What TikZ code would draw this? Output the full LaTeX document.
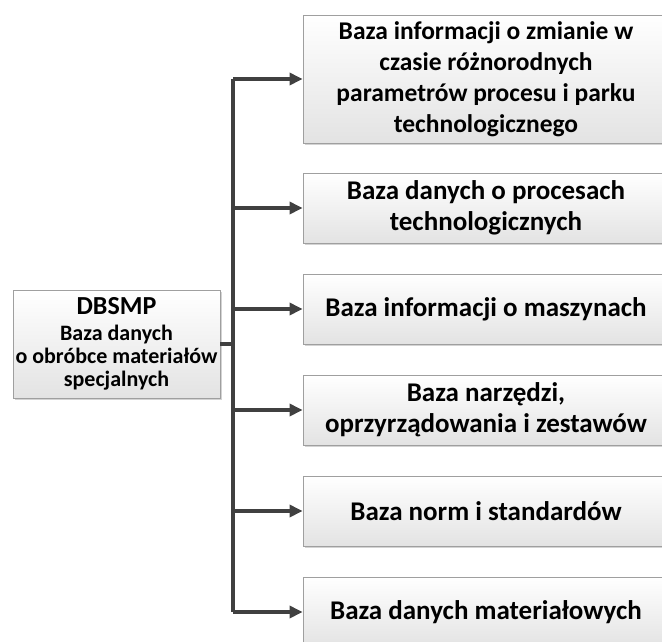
\documentclass[tikz,border=0pt]{standalone}
\usepackage{fontspec}
\setmainfont{Carlito}
\usetikzlibrary{arrows.meta,shadows}
\definecolor{linegray}{HTML}{404040}
\begin{document}
\begin{tikzpicture}
[x=1pt,y=-1pt,
  boxdecorate/.style={shape=rectangle,draw=gray!75,line width=0.8pt,
    top color=white,bottom color=gray!22,align=center,inner sep=2pt,
    drop shadow={shadow xshift=2pt,shadow yshift=-2pt,opacity=0.35,fill=gray}},%
  linedecorate/.style={-,line width=3.2pt,draw=linegray},%
  arrowdecorate/.style={-{Triangle[length=13pt,width=12pt]},line width=3.2pt,draw=linegray}]
\useasboundingbox (0,0) rectangle (662,641);
%% main node
\node (db) at (116.5,344) [boxdecorate,minimum width=207pt,minimum height=108pt,
  font=\bfseries\fontsize{22}{23}\selectfont]
  {{\fontsize{26}{26}\selectfont DBSMP}\\[3pt]
   Baza danych\\
   o obróbce materiałów\\
   specjalnych};
%% right side boxes
\foreach \nodename/\y/\h/\fs/\label in {
  b1/79/128/25.5/{Baza informacji o zmianie w\\czasie różnorodnych\\parametrów procesu i parku\\technologicznego},
  b2/208/70/27/{Baza danych o procesach\\technologicznych},
  b3/309/70/27/{Baza informacji o maszynach},
  b4/410/70/27/{Baza narzędzi,\\oprzyrządowania i zestawów},
  b5/511/70/27/{Baza norm i standardów},
  b6/612/70/27/{Baza danych materiałowych}}
{
  \node (\nodename) at (486,\y) [boxdecorate,minimum width=366pt,minimum height=\h pt,
    font=\bfseries\fontsize{\fs}{31}\selectfont] {\label};
}
%% spine and arrows
\coordinate (spine) at (233,0);
\draw[linedecorate] (db.east) -- (db.east -| spine);
\draw[linedecorate] (b1.west -| spine) -- (b6.west -| spine);
\foreach \nodename in {b1,b2,b3,b4,b5,b6}
{
  \draw[arrowdecorate] (\nodename.west -| spine) -- (\nodename.west);
}
\end{tikzpicture}
\end{document}
